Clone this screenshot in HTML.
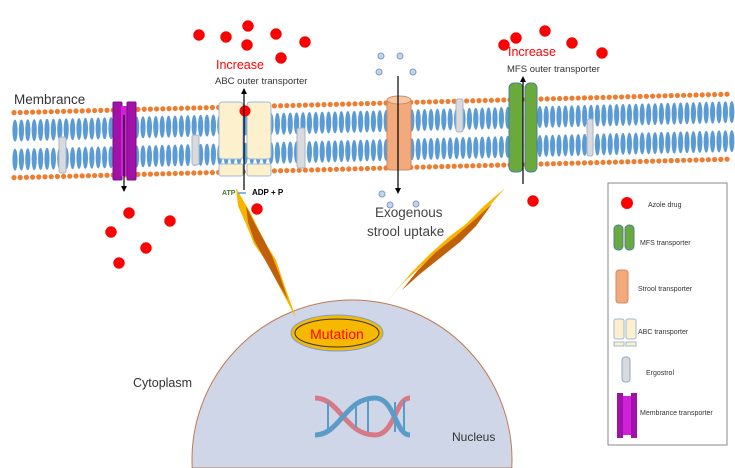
<!DOCTYPE html>
<html><head><meta charset="utf-8"><style>
html,body{margin:0;padding:0;background:#fff;width:735px;height:468px;overflow:hidden;}
svg{display:block;font-family:"Liberation Sans",sans-serif;}
</style></head><body>
<svg id="s" width="735" height="468" viewBox="0 0 735 468" xmlns="http://www.w3.org/2000/svg">
<g id="mem"></g>
<path d="M192.2,468 A160,160 0 1 1 511.8,468 Z" fill="#cfd6e8" stroke="#c07a50" stroke-width="1"/>
<ellipse cx="337" cy="333" rx="46" ry="18" fill="#f7b900" stroke="#7fa0c8" stroke-width="1"/>
<ellipse cx="337" cy="333" rx="42" ry="14" fill="none" stroke="#333" stroke-width="1"/>
<text x="337" y="339" text-anchor="middle" font-size="14" fill="#f00">Mutation</text>
<g fill="none" stroke-width="5">
<path d="M315 398 C340 398 345 435 375 435 C395 435 395 398 410 398" stroke="#d67a86"/>
<path d="M315 435 C340 435 345 398 375 398 C395 398 395 435 410 435" stroke="#5b9bc7"/>
</g>
<g stroke="#5b9bc7" stroke-width="2"><line x1="328" y1="402" x2="328" y2="432"/><line x1="356" y1="404" x2="356" y2="428"/><line x1="368" y1="400" x2="368" y2="432"/><line x1="395" y1="402" x2="395" y2="432"/><line x1="404" y1="400" x2="404" y2="432"/></g>
<g>
<polygon points="236,188 250,212 258,228 266,244 276,260 284,284 296,318 280,288 268,264 254,244 246,224 238,206" fill="#f7b500"/>
<polygon points="246,206 256,226 264,240 272,256 280,276 288,300 276,280 264,258 254,240 248,222" fill="#c0600c"/>
<polygon points="505,188 484,206 466,224 450,236 430,254 412,272 383,306 404,282 426,262 446,244 466,228 486,210" fill="#f7b500"/>
<polygon points="492,204 472,222 456,236 436,252 418,270 402,290 420,274 440,258 460,242 476,226" fill="#c0600c"/>
</g>
<g fill="#f00" stroke="#d00" stroke-width="0.5" id="reds"></g>
<g fill="#c5d3ea" stroke="#7f9cc5" stroke-width="1">
<circle cx="381" cy="56" r="3"/><circle cx="400" cy="56" r="3"/><circle cx="379" cy="72" r="3"/><circle cx="413" cy="72" r="3"/>
<circle cx="382" cy="194" r="3"/><circle cx="390" cy="205" r="3"/><circle cx="416" cy="204" r="3"/>
</g>
<g id="tr">
<rect x="113" y="102" width="9" height="78" rx="1" fill="#a012a8" stroke="#7a1080"/>
<rect x="121" y="106" width="7" height="70" fill="#d020d8"/>
<rect x="127" y="102" width="9" height="78" rx="1" fill="#a012a8" stroke="#7a1080"/>
<rect x="219" y="102" width="24" height="57" rx="3" fill="#fdf0cc" stroke="#9fb8d8"/>
<rect x="247" y="102" width="24" height="57" rx="3" fill="#fdf0cc" stroke="#9fb8d8"/>
<rect x="219" y="164" width="24" height="12" rx="2" fill="#fdf0cc" stroke="#9fb8d8"/>
<rect x="247" y="164" width="24" height="12" rx="2" fill="#fdf0cc" stroke="#9fb8d8"/>
<rect x="387" y="99" width="24" height="71" rx="3" fill="#f2a97c" stroke="#d08a60"/>
<ellipse cx="399" cy="100" rx="12" ry="4" fill="#f7c6a6" stroke="#d08a60"/>
<rect x="509" y="83" width="14" height="89" rx="5" fill="#6aaa3c" stroke="#4f7fa0"/>
<rect x="525" y="83" width="12" height="89" rx="5" fill="#6aaa3c" stroke="#4f7fa0"/>
<g fill="#d8dadd" stroke="#a8b4c8">
<rect x="59" y="137" width="7" height="36" rx="2"/><rect x="192" y="135" width="7" height="30" rx="2"/><rect x="297" y="128" width="8" height="40" rx="2"/><rect x="456" y="99" width="7" height="33" rx="2"/><rect x="587" y="119" width="6" height="37" rx="2"/>
</g>
</g>
<circle cx="245" cy="111" r="5.5" fill="#f00"/>
<g stroke="#000" stroke-width="1.2">
<line x1="124" y1="115" x2="124" y2="188"/><line x1="244" y1="190" x2="244" y2="92"/><line x1="398" y1="76" x2="398" y2="190"/><line x1="523" y1="184" x2="523" y2="80"/>
</g>
<g fill="#000">
<polygon points="121,186 127,186 124,192"/><polygon points="241,94 247,94 244,88"/><polygon points="395,188 401,188 398,194"/><polygon points="520,82 526,82 523,76"/>
</g>
<text x="14" y="104" font-size="13.5" fill="#333">Membrance</text>
<text x="216" y="69" font-size="12.5" fill="#f00">Increase</text>
<text x="215" y="84" font-size="9.5" fill="#333">ABC outer transporter</text>
<text x="508" y="56" font-size="12.5" fill="#f00">Increase</text>
<text x="507" y="72" font-size="9.5" fill="#333">MFS outer transporter</text>
<text x="222" y="195" font-size="7" fill="#4a7a30" font-weight="bold">ATP</text>
<line x1="238" y1="193" x2="246" y2="193" stroke="#5b9bd5" stroke-width="1.5"/>
<text x="252" y="195" font-size="8" font-weight="bold" fill="#000">ADP + P</text>
<text x="375" y="217" font-size="13.5" fill="#444">Exogenous</text>
<text x="367" y="236" font-size="13.5" fill="#444">strool uptake</text>
<text x="133" y="387" font-size="12.5" fill="#333">Cytoplasm</text>
<text x="452" y="441" font-size="12" fill="#333">Nucleus</text>
<rect x="608" y="183" width="119" height="262" fill="#fff" stroke="#888"/>
<circle cx="627" cy="203" r="6" fill="#f00"/>
<text x="648" y="207" font-size="7" fill="#333">Azole drug</text>
<rect x="614" y="225" width="9" height="25" rx="4" fill="#6aaa3c" stroke="#4f7fa0"/><rect x="625" y="225" width="9" height="25" rx="4" fill="#6aaa3c" stroke="#4f7fa0"/>
<text x="640" y="245" font-size="7" fill="#333">MFS transporter</text>
<rect x="616" y="270" width="12" height="33" rx="3" fill="#f2a97c" stroke="#d08a60"/>
<text x="638" y="291" font-size="7" fill="#333">Strool transporter</text>
<rect x="614" y="319" width="10" height="20" rx="2" fill="#fdf0cc" stroke="#9fb8d8"/><rect x="626" y="319" width="10" height="20" rx="2" fill="#fdf0cc" stroke="#9fb8d8"/>
<rect x="614" y="342" width="10" height="4" fill="#fdf0cc" stroke="#9fb8d8"/><rect x="626" y="342" width="10" height="4" fill="#fdf0cc" stroke="#9fb8d8"/>
<text x="638" y="334" font-size="7" fill="#333">ABC transporter</text>
<rect x="622" y="357" width="8" height="25" rx="3" fill="#d8dadd" stroke="#8fa8c8"/>
<text x="646" y="375" font-size="7" fill="#333">Ergostrol</text>
<rect x="617" y="393" width="6" height="45" fill="#a012a8"/><rect x="623" y="396" width="8" height="39" fill="#d020d8"/><rect x="631" y="393" width="6" height="45" fill="#a012a8"/>
<text x="640" y="415" font-size="7" fill="#333">Membrance transporter</text>
</svg>
<script>
(function(){
var ns="http://www.w3.org/2000/svg",m=document.getElementById("mem");
function el(t,a,p){var e=document.createElementNS(ns,t);for(var k in a)e.setAttribute(k,a[k]);(p||m).appendChild(e);}
for(var x=14;x<=733;x+=6.2){var y0=113-(x/735)*19;
 el("circle",{cx:x,cy:y0,r:2.6,fill:"#ed7d31"});
 el("circle",{cx:x,cy:y0+65,r:2.6,fill:"#ed7d31"});}
for(var x=15;x<=732;x+=6.4){var y0=113-(x/735)*19;
 el("ellipse",{cx:x,cy:y0+18,rx:2.6,ry:11,fill:"#5b9bd5"});
 el("ellipse",{cx:x,cy:y0+47,rx:2.6,ry:11,fill:"#5b9bd5"});}
var r=document.getElementById("reds");
[[199,35],[226,37],[248,26],[247,45],[276,34],[305,42],[281,58],[504,45],[516,38],[545,31],[572,43],[602,53],[129,213],[111,232],[170,221],[146,248],[119,263],[257,209],[533,201]].forEach(function(p){el("circle",{cx:p[0],cy:p[1],r:5.5},r);});
})();
</script>
</body></html>
